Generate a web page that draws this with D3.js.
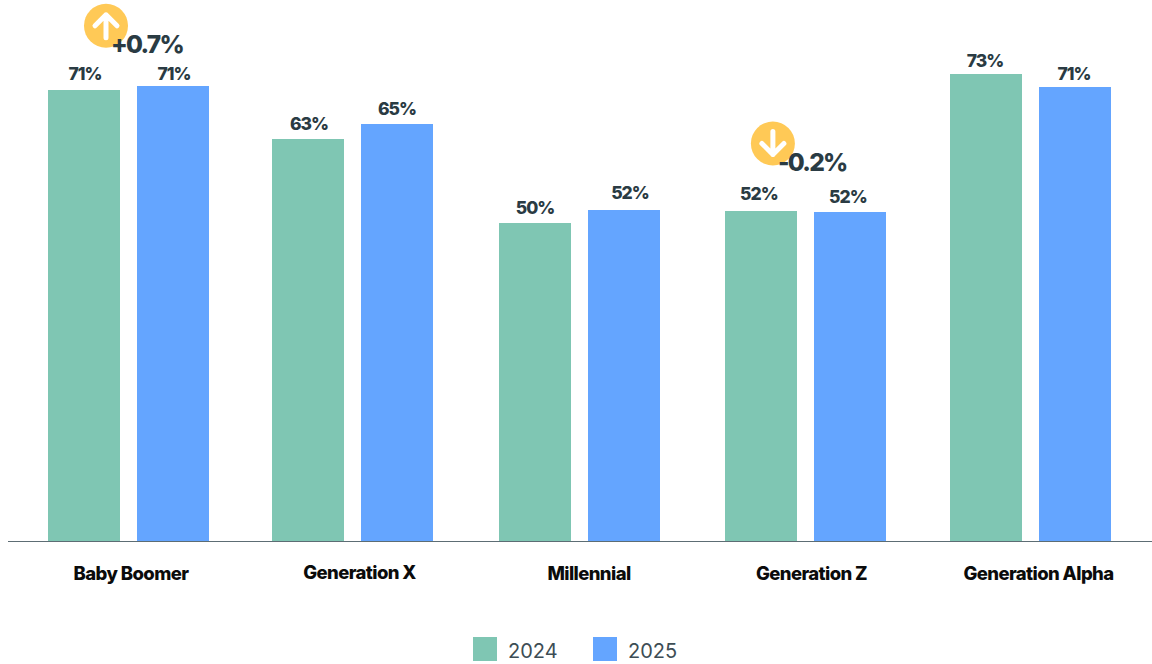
<!DOCTYPE html>
<html>
<head>
<meta charset="utf-8">
<script src="https://cdn.jsdelivr.net/npm/d3@7/dist/d3.min.js"></script>
<style>
  html, body { margin: 0; padding: 0; background: #fff; }
  svg { display: block; }
  text { font-family: Inter, "Noto Sans", sans-serif; }
</style>
</head>
<body>
<svg id="chart" width="1152" height="664"></svg>
<script>
// Share of respondents per generation, by survey year (percent)
const categories = ["Baby Boomer", "Generation X", "Millennial", "Generation Z", "Generation Alpha"];
const years = ["2024", "2025"];
const values2024 = [70.65, 63.0, 49.8, 51.65, 73.2];
const values2025 = [71.35, 65.3, 51.9, 51.5, 71.1];
const colors = ["#7fc6b3", "#64a5ff"];

// Year-on-year change callouts
const changeCategories = ["Baby Boomer", "Generation Z"];
const changeLabels = ["+0.7%", "-0.2%"];
const changeDirections = ["up", "down"];

// Layout tweaks, kept apart from the data
const groupShift = [0, -1.5, 0, 0.4, 0];
const tickShift = [2.5, 5.5, 9.5, 6.5, 8];
const tickRaise = [0, 1, 0, 0, 0];
const labelShift = [[0, 0], [0, -1], [-1, 5], [-3, -3], [-2, -2]];
const labelRaise = [[1, -3], [0, 0], [0, 2], [2, 0], [-2, -2]];
const calloutOffset = { "Baby Boomer": [58, -60, 63, -33], "Generation Z": [48, -68, 53, -40] };

const ink = "#2a3b43";
const svg = d3.select("#chart");
const baseY = 541;

const x0 = d3.scaleBand().domain(categories).range([15.75, 1143.25]).paddingInner(0.286).paddingOuter(0.143);
const x1 = d3.scaleBand().domain(years).range([0, x0.bandwidth()]).paddingInner(0.191);
const y = d3.scaleLinear().domain([0, 80]).range([baseY, baseY - 80 * 6.38]);
const color = d3.scaleOrdinal().domain(years).range(colors);

const rows = categories.map((c, i) => ({
  category: c,
  shift: groupShift[i],
  entries: [
    { year: years[0], value: values2024[i], dx: labelShift[i][0], raise: labelRaise[i][0] },
    { year: years[1], value: values2025[i], dx: labelShift[i][1], raise: labelRaise[i][1] }
  ]
}));

const groups = svg.selectAll("g.group").data(rows).join("g")
  .attr("class", "group")
  .attr("transform", d => `translate(${x0(d.category) + d.shift},0)`);

groups.selectAll("rect").data(d => d.entries).join("rect")
  .attr("x", d => x1(d.year))
  .attr("y", d => y(d.value))
  .attr("width", x1.bandwidth())
  .attr("height", d => baseY - y(d.value))
  .attr("shape-rendering", "crispEdges")
  .attr("fill", d => color(d.year));

const pct = v => Math.round(v) + "%";
groups.selectAll("text").data(d => d.entries).join("text")
  .attr("x", d => x1(d.year) + x1.bandwidth() / 2 + 1 + d.dx)
  .attr("y", d => y(d.value) - 9 - d.raise)
  .attr("text-anchor", "middle")
  .attr("font-size", 17.5)
  .attr("font-weight", 800)
  .attr("letter-spacing", "-1")
  .attr("fill", ink)
  .text(d => pct(d.value));

// Baseline across the full plot width
svg.append("line")
  .attr("x1", 8).attr("x2", 1152)
  .attr("y1", baseY + 0.5).attr("y2", baseY + 0.5)
  .attr("stroke", "#5d6d74").attr("stroke-width", 1.2);

// Category labels
const axis = svg.append("g")
  .attr("transform", `translate(0,${baseY})`)
  .call(d3.axisBottom(x0).tickSize(0).tickPadding(0));
axis.select(".domain").remove();
axis.selectAll("text")
  .attr("dx", (d, i) => tickShift[i])
  .attr("y", (d, i) => 39 - tickRaise[i])
  .attr("dy", 0)
  .style("font-family", "Inter, sans-serif")
  .style("font-size", "18.5px")
  .style("font-weight", 800)
  .style("letter-spacing", "-0.6px")
  .attr("fill", "#0b0b0b");

// Change callouts: badge with arrow, then the change value
changeCategories.forEach((c, i) => {
  const k = categories.indexOf(c);
  const top = y(Math.max(values2024[k], values2025[k]));
  const left = x0(c) + groupShift[k];
  const [cx, cy, tx, ty] = calloutOffset[c];
  const badge = svg.append("g").attr("transform", `translate(${left + cx},${top + cy})`);
  badge.append("circle").attr("r", 22).attr("fill", "#ffc956");
  const dir = changeDirections[i] === "up" ? 1 : -1;
  badge.append("path")
    .attr("d", d3.line()([[0, 12 * dir], [0, -11 * dir]]) + d3.line()([[-11, 0], [0, -11 * dir], [11, 0]]))
    .attr("fill", "none")
    .attr("stroke", "#fff")
    .attr("stroke-width", 5)
    .attr("stroke-linecap", "round")
    .attr("stroke-linejoin", "round");
  svg.append("text")
    .attr("x", left + tx)
    .attr("y", top + ty)
    .attr("font-size", 24.5)
    .attr("font-weight", 800)
    .attr("letter-spacing", "-1.7")
    .attr("fill", ink)
    .text(changeLabels[i]);
});

// Legend
const legend = svg.selectAll("g.legend").data(years).join("g")
  .attr("class", "legend")
  .attr("transform", (d, i) => `translate(${473 + i * 120},637)`);
legend.append("rect").attr("width", 24).attr("height", 24).attr("fill", d => color(d));
legend.append("text")
  .attr("x", 35).attr("y", 21)
  .attr("font-size", 20)
  .attr("font-weight", 400)
  .attr("fill", "#3d4d55")
  .text(d => d);
</script>
</body>
</html>
